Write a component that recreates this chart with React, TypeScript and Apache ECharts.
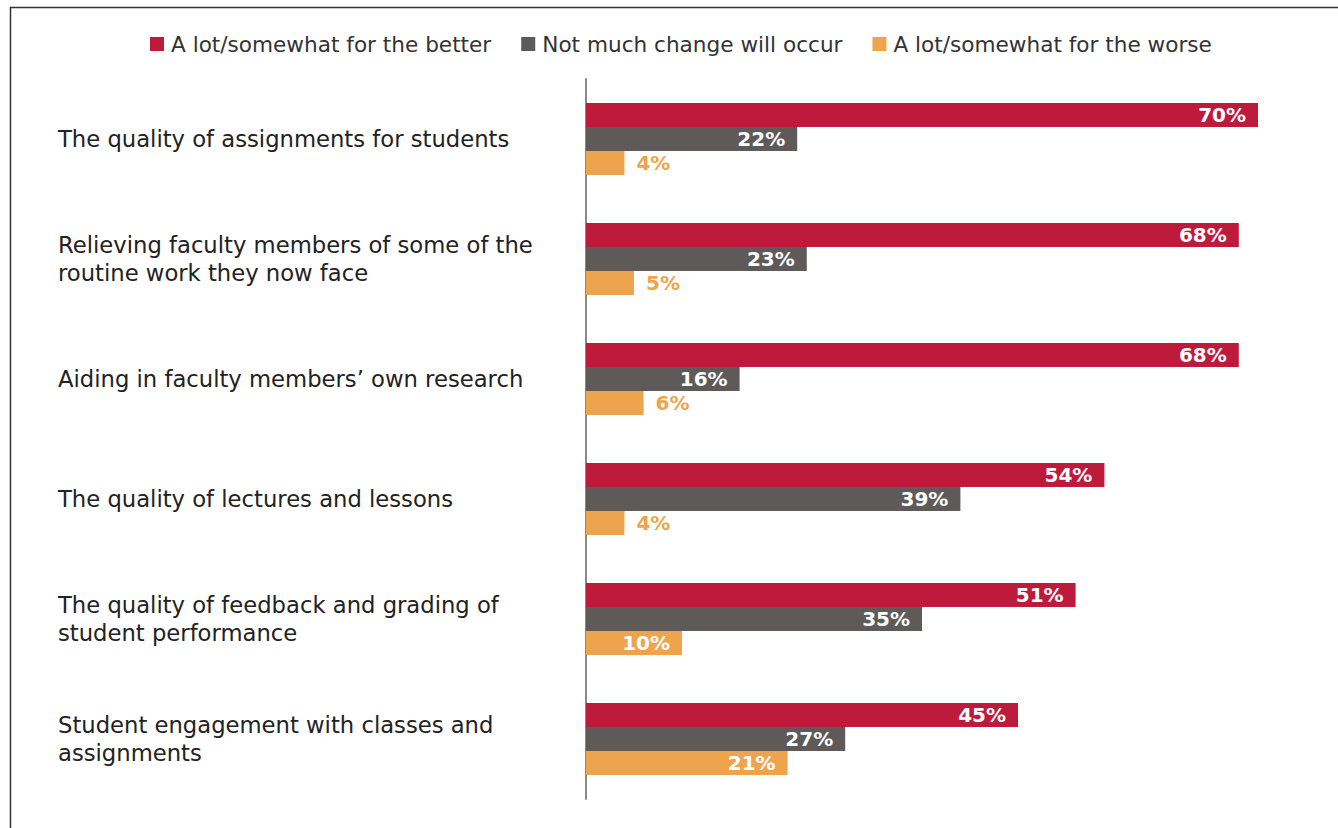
import React, { useEffect, useRef } from "react";
import * as echarts from "echarts";

const categories = [
  "The quality of assignments for students",
  "Relieving faculty members of some of the\nroutine work they now face",
  "Aiding in faculty members’ own research",
  "The quality of lectures and lessons",
  "The quality of feedback and grading of\nstudent performance",
  "Student engagement with classes and\nassignments",
];
const seriesNames = [
  "A lot/somewhat for the better",
  "Not much change will occur",
  "A lot/somewhat for the worse",
];
const better = [70, 68, 68, 54, 51, 45];
const noChange = [22, 23, 16, 39, 35, 27];
const worse = [4, 5, 6, 4, 10, 21];
const colors = ["#BE1A3C", "#5E5A59", "#EDA44C"];

const FONT = "DejaVu Sans";

export default function App() {
  const ref = useRef<HTMLDivElement>(null);
  useEffect(() => {
    if (!ref.current) return;
    const chart = echarts.init(ref.current, null, { renderer: "svg" });
    const mkData = (vals: number[], color: string) =>
      vals.map((v) =>
        v < 10
          ? {
              value: v,
              label: {
                position: "right",
                color,
                distance: 12,
              },
            }
          : { value: v }
      );
    const allVals = [better, noChange, worse];
    chart.setOption({
      animation: false,
      grid: { left: 586, right: 80, top: 79, height: 720 },
      legend: {
        top: 28,
        left: 145,
        itemWidth: 14,
        itemHeight: 14,
        itemGap: 30,
        icon: "rect",
        textStyle: { fontFamily: FONT, fontSize: 21.6, color: "#333", padding: [0, 0, 0, 2] },
        data: seriesNames,
      },
      xAxis: {
        type: "value",
        min: 0,
        max: 70,
        show: false,
        splitLine: { show: false },
      },
      yAxis: {
        type: "category",
        inverse: true,
        data: categories,
        axisLine: { show: true, lineStyle: { color: "#8a8a8a", width: 2 } },
        axisTick: { show: false },
        axisLabel: {
          align: "left",
          margin: 528,
          fontFamily: FONT,
          fontSize: 22.7,
          color: "#222",
          lineHeight: 28,
        },
      },
      graphic: [
        {
          type: "line",
          shape: { x1: 10.5, y1: 7, x2: 10.5, y2: 828 },
          style: { stroke: "#333", lineWidth: 1.5 },
        },
        {
          type: "line",
          shape: { x1: 10, y1: 7.5, x2: 1338, y2: 7.5 },
          style: { stroke: "#333", lineWidth: 1.5 },
        },
      ],
      series: seriesNames.map((name, i) => ({
        name,
        type: "bar",
        barWidth: 24,
        barGap: "0%",
        itemStyle: { color: colors[i] },
        label: {
          show: true,
          position: "insideRight",
          distance: 12,
          formatter: "{c}%",
          color: "#fff",
          fontFamily: FONT,
          fontWeight: "bold",
          fontSize: 20,
        },
        data: mkData(allVals[i], colors[i]),
      })),
    });
    return () => chart.dispose();
  }, []);
  return (
    <div
      ref={ref}
      style={{ position: "fixed", left: 0, top: 0, width: 1338, height: 828, background: "#fff" }}
    />
  );
}
